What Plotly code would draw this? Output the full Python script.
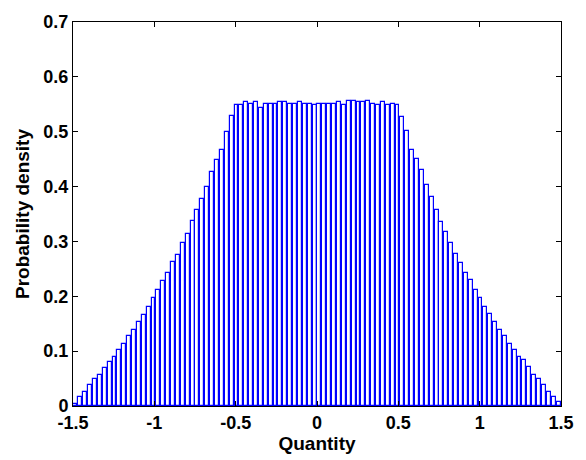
import numpy as np
import plotly.graph_objects as go

# Histogram: 100 bins spanning -1.5 .. 1.5
bin_start = -1.5
bin_width = 0.03
density = [
    0.004, 0.017, 0.026, 0.038, 0.049, 0.057, 0.070, 0.080, 0.090, 0.103,
    0.113, 0.127, 0.139, 0.153, 0.166, 0.181, 0.197, 0.212, 0.228, 0.243,
    0.262, 0.276, 0.297, 0.314, 0.338, 0.357, 0.377, 0.399, 0.427, 0.449,
    0.467, 0.499, 0.529, 0.548, 0.549, 0.554, 0.551, 0.554, 0.543, 0.551,
    0.551, 0.551, 0.554, 0.554, 0.551, 0.551, 0.554, 0.551, 0.551, 0.549,
    0.551, 0.550, 0.551, 0.551, 0.554, 0.549, 0.556, 0.556, 0.554, 0.554,
    0.556, 0.551, 0.549, 0.554, 0.549, 0.551, 0.549, 0.527, 0.502, 0.467,
    0.451, 0.430, 0.403, 0.381, 0.358, 0.336, 0.317, 0.298, 0.278, 0.261,
    0.242, 0.230, 0.212, 0.197, 0.181, 0.168, 0.154, 0.138, 0.127, 0.113,
    0.102, 0.090, 0.083, 0.072, 0.057, 0.050, 0.039, 0.026, 0.016, 0.007,
]
centers = bin_start + bin_width * (np.arange(len(density)) + 0.5)

x_ticks = [-1.5, -1, -0.5, 0, 0.5, 1, 1.5]
x_tick_text = ["-1.5", "-1", "-0.5", "0", "0.5", "1", "1.5"]
y_ticks = [0, 0.1, 0.2, 0.3, 0.4, 0.5, 0.6, 0.7]
y_tick_text = ["0", "0.1", "0.2", "0.3", "0.4", "0.5", "0.6", "0.7"]

fig = go.Figure()
fig.add_trace(go.Bar(
    x=centers, y=density, width=bin_width * 0.8,
    marker=dict(color="white", line=dict(color="#0000ff", width=1.2)),
    showlegend=False,
))

font_tick = dict(family="Liberation Sans, Arial, sans-serif", size=18, color="black")
fig.update_layout(
    width=586, height=460,
    margin=dict(l=73, r=13, t=18, b=53),
    paper_bgcolor="white", plot_bgcolor="white",
    bargap=0,
    font=dict(family="Liberation Sans, Arial, sans-serif", color="black"),
    xaxis=dict(
        range=[-1.5, 1.5], tickvals=x_ticks, ticktext=["<b>%s</b>" % t for t in x_tick_text],
        ticks="inside", ticklen=5, tickcolor="black", mirror="ticks",
        showline=True, linecolor="black", linewidth=1, showgrid=False, zeroline=False,
        tickfont=font_tick,
        title=dict(text="<b>Quantity</b>", font=dict(size=19), standoff=2),
    ),
    yaxis=dict(
        range=[0, 0.7], tickvals=y_ticks, ticktext=["<b>%s</b>" % t for t in y_tick_text],
        ticks="inside", ticklen=5, tickcolor="black", mirror="ticks",
        showline=True, linecolor="black", linewidth=1, showgrid=False, zeroline=False,
        tickfont=font_tick,
        title=dict(text="<b>Probability density</b>", font=dict(size=19), standoff=8),
    ),
)
fig.write_html("out.html")
